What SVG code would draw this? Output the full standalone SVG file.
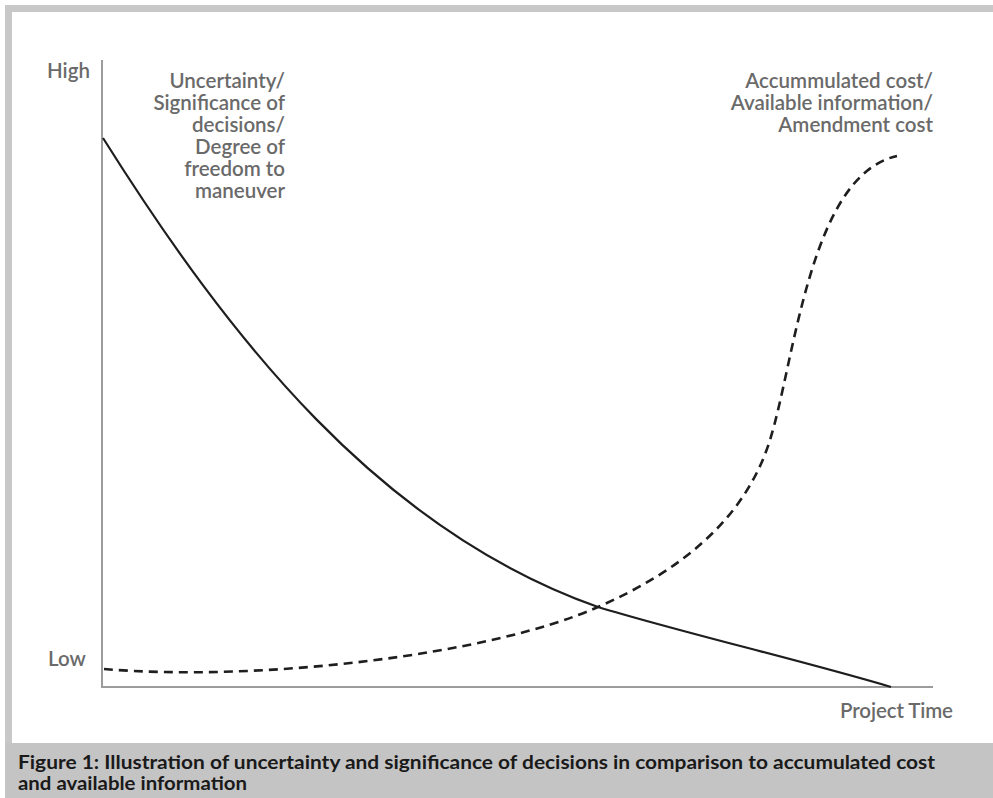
<svg xmlns="http://www.w3.org/2000/svg" width="993" height="798" viewBox="0 0 993 798">
  <style>
    .lbl { font-family: Lato, "Open Sans", "Liberation Sans", sans-serif; font-weight: 600; font-size: 20.5px; fill: #6a6a6a; }
    .r { text-anchor: end; }
    .cap { font-family: Lato, "Open Sans", "Liberation Sans", sans-serif; font-weight: 700; font-size: 19.5px; fill: #1a1a1a; }
    .axis { stroke: #9c9c9c; stroke-width: 2; fill: none; }
    .solid { stroke: #1e1e1e; stroke-width: 2.2; fill: none; }
    .dash { stroke: #1e1e1e; stroke-width: 2.6; fill: none; stroke-dasharray: 9 6; }
  </style>

  <!-- frame -->
  <rect x="0" y="0" width="993" height="798" fill="#ffffff"/>
  <rect x="5" y="5" width="988" height="7" fill="#c8c8c8"/>
  <rect x="5" y="5" width="7" height="793" fill="#c8c8c8"/>
  <rect x="5" y="743" width="988" height="55" fill="#c4c4c4"/>

  <!-- axes -->
  <g id="axes">
    <path class="axis" d="M102,60 V687 H933"/>
  </g>

  <!-- curves -->
  <g id="curves">
    <path id="uncertainty-curve" class="solid" d="M103,138 C230,340 380,530 598,607 C680,632 800,660 891,687"/>
    <path id="cost-curve" class="dash" d="M104,669 C260,682 490,655 598,607 C680,571 745,520 770,440 C795,360 810,175 897,156"/>
  </g>

  <!-- axis labels -->
  <g id="axis-labels">
    <text class="lbl" x="47" y="78">High</text>
    <text class="lbl" x="48" y="666">Low</text>
    <text class="lbl" x="840" y="718" textLength="113">Project Time</text>
  </g>

  <!-- curve labels -->
  <g id="label-uncertainty">
    <text class="lbl r" x="285" y="88">Uncertainty/</text>
    <text class="lbl r" x="285" y="110">Significance of</text>
    <text class="lbl r" x="285" y="132">decisions/</text>
    <text class="lbl r" x="285" y="154">Degree of</text>
    <text class="lbl r" x="285" y="176">freedom to</text>
    <text class="lbl r" x="285" y="198">maneuver</text>
  </g>
  <g id="label-cost">
    <text class="lbl r" x="933" y="88">Accummulated cost/</text>
    <text class="lbl r" x="933" y="110">Available information/</text>
    <text class="lbl r" x="933" y="132">Amendment cost</text>
  </g>

  <!-- caption -->
  <g id="caption">
    <text class="cap" x="18" y="769" textLength="917" lengthAdjust="spacingAndGlyphs">Figure 1: Illustration of uncertainty and significance of decisions in comparison to accumulated cost</text>
    <text class="cap" x="18" y="790" textLength="229" lengthAdjust="spacingAndGlyphs">and available information</text>
  </g>
</svg>
